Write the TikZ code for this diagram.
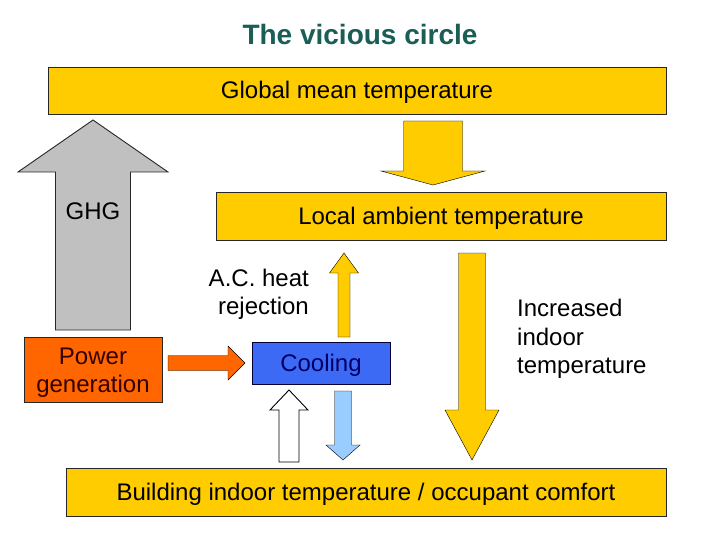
\documentclass[tikz,border=0pt]{standalone}
\usepackage{fontspec}
\setmainfont{Liberation Sans}
\usepackage{tikz}
\usetikzlibrary{calc}

\definecolor{gold}{HTML}{FFCC00}
\definecolor{titleteal}{HTML}{1A5E55}
\definecolor{powerorange}{HTML}{FF6600}
\definecolor{coolblue}{HTML}{3D6AF5}
\definecolor{lightblue}{HTML}{99CCFF}
\definecolor{ghggray}{HTML}{C0C0C0}

% block arrow: style, from, to, shaft half width, head half width, head length
\newcommand\blockarrow[6]{%
  \coordinate (ba1) at ($(#2)!#4!90:(#3)$);
  \coordinate (bh)  at ($(#3)!#6!(#2)$);
  \coordinate (ba2) at ($(bh)!#4!-90:(#2)$);
  \coordinate (ba3) at ($(bh)!#5!-90:(#2)$);
  \coordinate (ba4) at ($(bh)!#5!90:(#2)$);
  \coordinate (ba5) at ($(bh)!#4!90:(#2)$);
  \coordinate (ba6) at ($(#2)!#4!-90:(#3)$);
  \draw[#1] (ba1) -- (ba2) -- (ba3) -- (#3) -- (ba4) -- (ba5) -- (ba6) -- cycle;
}

\tikzset{
  txt/.style={font=\fontsize{24}{28}\selectfont, inner sep=0pt},
  box/.style={txt, draw=black!85, line width=0.9pt, fill=gold, text height=22pt, text depth=5pt},
}

\begin{document}
\begin{tikzpicture}[x=1pt,y=-1pt]
  \useasboundingbox (0,0) rectangle (720,540);

  % title
  \node[font=\fontsize{28}{32}\selectfont\bfseries, text=titleteal] (title) at (360,34) {The vicious circle};

  % boxes
  \node[box, minimum width=618pt, minimum height=47pt] (global) at (357,90.5) {Global mean temperature};
  \node[box, minimum width=450pt, minimum height=48pt] (local) at (441,216) {Local ambient temperature};
  \node[box, fill=powerorange, text=black!80!red, align=center, text height=, text depth=, minimum width=138pt, minimum height=65pt] (power) at (93,369.5) {\rule{0pt}{23pt}Power\\generation};
  \node[box, fill=coolblue, draw=black!80!blue, text=black!60!blue, minimum width=138pt, minimum height=42pt] (cooling) at (321,363) {Cooling};
  \node[box, minimum width=600pt, minimum height=48pt] (building) at (366,492) {Building indoor temperature / occupant comfort};

  % arrow ends
  \coordinate (g0) at (433,121);  \coordinate (g1) at (433,185);
  \coordinate (h0) at (93,330);   \coordinate (h1) at (93,120);
  \coordinate (p0) at (168,363);  \coordinate (p1) at (245,363);
  \coordinate (r0) at (344,337);  \coordinate (r1) at (344,253);
  \coordinate (c0) at (343,391);  \coordinate (c1) at (343,460);
  \coordinate (w0) at (289,462);  \coordinate (w1) at (289,390);
  \coordinate (i0) at (472,253);  \coordinate (i1) at (472,460);

  % block arrows
  \blockarrow{fill=gold}{g0}{g1}{29.5pt}{52pt}{14pt}
  \blockarrow{fill=ghggray, draw=black!85, line width=0.9pt}{h0}{h1}{37.5pt}{75pt}{52pt}
  \blockarrow{fill=powerorange}{p0}{p1}{7.5pt}{17pt}{17pt}
  \blockarrow{fill=gold}{r0}{r1}{6pt}{14.5pt}{20pt}
  \blockarrow{fill=lightblue}{c0}{c1}{8.5pt}{17pt}{15pt}
  \blockarrow{fill=white, draw=black, line width=0.9pt}{w0}{w1}{10pt}{19pt}{20pt}
  \blockarrow{fill=gold}{i0}{i1}{13.5pt}{27pt}{50pt}

  % labels
  \node[txt] (ghg) at (93,211) {GHG};
  \node[txt, align=right, anchor=east] (acheat) at (309,294) {A.C. heat\\rejection};
  \node[txt, align=left, anchor=west, font=\fontsize{24}{28.5}\selectfont] (indoor) at (517,339) {Increased\\indoor\\temperature};
\end{tikzpicture}
\end{document}
